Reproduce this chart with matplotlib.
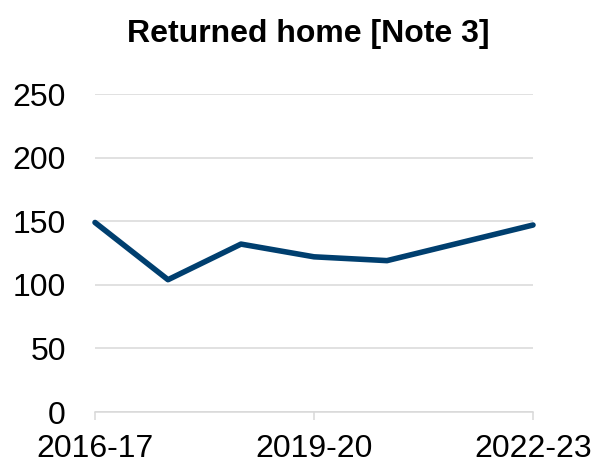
import matplotlib
matplotlib.use("Agg")
import matplotlib.pyplot as plt

# Data
years = ["2016-17", "2017-18", "2018-19", "2019-20", "2020-21", "2021-22", "2022-23"]
returned_home = [149, 104, 132, 122, 119, 133, 147]
y_ticks = [0, 50, 100, 150, 200, 250]
shown_labels = ["2016-17", "2019-20", "2022-23"]

plt.rcParams["font.family"] = ["Liberation Sans", "DejaVu Sans"]

fig = plt.figure(figsize=(5.93, 4.65), dpi=100)
ax = fig.add_axes([95 / 593, 53 / 465, 438 / 593, 318 / 465])

x = list(range(len(years)))
ax.plot(x, returned_home, color="#003f6f", linewidth=4, solid_joinstyle="round",
        solid_capstyle="round", zorder=3, clip_on=False)

ax.set_xlim(0, len(years) - 1)
ax.set_ylim(0, 250)
ax.set_yticks(y_ticks)
ax.set_yticklabels([str(v) for v in y_ticks], fontsize=23)
tick_pos = [years.index(lbl) for lbl in shown_labels]
ax.set_xticks(tick_pos)
ax.set_xticklabels(shown_labels, fontsize=23)

ax.grid(axis="y", color="#d9d9d9", linewidth=1.1)
ax.set_axisbelow(True)
for side in ["top", "right", "left"]:
    ax.spines[side].set_visible(False)
ax.spines["bottom"].set_color("#d9d9d9")
ax.spines["bottom"].set_linewidth(1.1)

ax.tick_params(axis="y", length=0, pad=21)
ax.tick_params(axis="x", length=6, width=1.1, color="#d9d9d9", pad=10)

fig.text(308 / 593, 1 - 34 / 465, "Returned home [Note 3]", fontsize=23,
         fontweight="bold", ha="center", va="center")

fig.savefig("out.png", dpi=100)
